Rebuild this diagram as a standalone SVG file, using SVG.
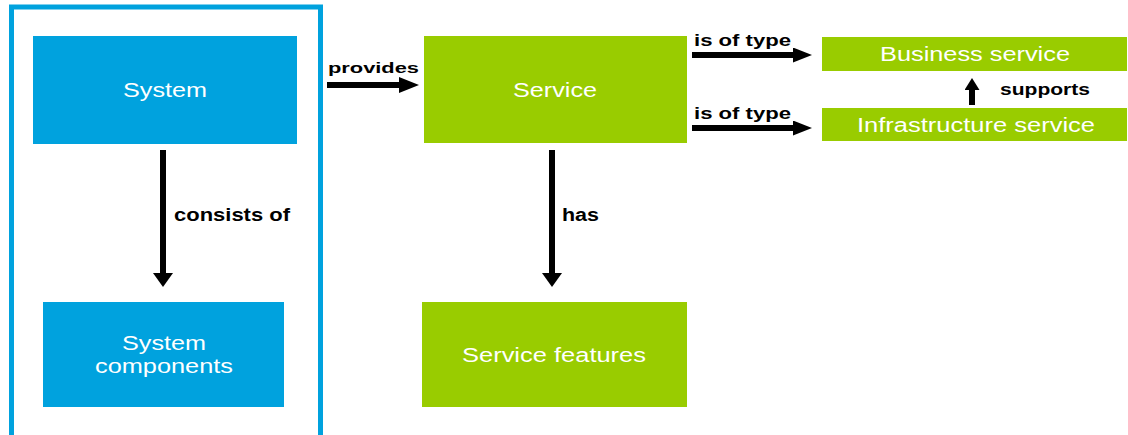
<svg xmlns="http://www.w3.org/2000/svg" width="1128" height="435" viewBox="0 0 1128 435">
  <style>
    .blue { fill: #00a2de; }
    .green { fill: #99cc00; }
    .ntext { font-family: "Liberation Sans", Arial, sans-serif; font-size: 20px; fill: #ffffff; text-anchor: middle; }
    .lbl { font-family: "Liberation Sans", Arial, sans-serif; font-weight: bold; fill: #000000; }
    .conn { stroke: #000000; stroke-width: 6; fill: none; }
  </style>
  <defs>
    <marker id="headH" markerUnits="userSpaceOnUse" markerWidth="20" markerHeight="16" viewBox="0 0 20 16" refX="1" refY="8" orient="auto">
      <path d="M0,0 L20,8 L0,16 Z" fill="#000"/>
    </marker>
    <marker id="headT" markerUnits="userSpaceOnUse" markerWidth="19" markerHeight="15" viewBox="0 0 19 15" refX="1" refY="7.5" orient="auto">
      <path d="M0,0 L19,7.5 L0,15 Z" fill="#000"/>
    </marker>
    <marker id="headV" markerUnits="userSpaceOnUse" markerWidth="14" markerHeight="20" viewBox="0 0 14 20" refX="1" refY="10" orient="auto">
      <path d="M0,0 L14,10 L0,20 Z" fill="#000"/>
    </marker>
    <marker id="headS" markerUnits="userSpaceOnUse" markerWidth="12" markerHeight="15" viewBox="0 0 12 15" refX="1" refY="7.5" orient="auto">
      <path d="M0,0 L12,7.5 L0,15 Z" fill="#000"/>
    </marker>
  </defs>

  <g id="frame">
    <rect x="11.5" y="7" width="309" height="431" fill="none" stroke="#00a2de" stroke-width="5"/>
  </g>

  <g id="system">
    <rect class="blue" x="33" y="36" width="264" height="108"/>
    <text class="ntext" x="165" y="97" textLength="84" lengthAdjust="spacingAndGlyphs">System</text>
  </g>

  <g id="system-components">
    <rect class="blue" x="43" y="302" width="241" height="105"/>
    <text class="ntext" x="164" y="350" textLength="84" lengthAdjust="spacingAndGlyphs">System</text>
    <text class="ntext" x="164" y="373" textLength="138" lengthAdjust="spacingAndGlyphs">components</text>
  </g>

  <g id="service">
    <rect class="green" x="424" y="36" width="263" height="107"/>
    <text class="ntext" x="555" y="97" textLength="84" lengthAdjust="spacingAndGlyphs">Service</text>
  </g>

  <g id="service-features">
    <rect class="green" x="422" y="302" width="265" height="105"/>
    <text class="ntext" x="554" y="362" textLength="184" lengthAdjust="spacingAndGlyphs">Service features</text>
  </g>

  <g id="business-service">
    <rect class="green" x="822" y="37" width="305" height="34"/>
    <text class="ntext" x="975" y="61" textLength="190" lengthAdjust="spacingAndGlyphs">Business service</text>
  </g>

  <g id="infrastructure-service">
    <rect class="green" x="822" y="108" width="305" height="33"/>
    <text class="ntext" x="976" y="132" textLength="238" lengthAdjust="spacingAndGlyphs">Infrastructure service</text>
  </g>

  <g id="connectors">
    <line class="conn" x1="327" y1="85" x2="400" y2="85" marker-end="url(#headH)"/>
    <text class="lbl" x="328" y="73" font-size="15" textLength="91" lengthAdjust="spacingAndGlyphs">provides</text>

    <line class="conn" x1="163" y1="150" x2="163" y2="274" marker-end="url(#headV)"/>
    <text class="lbl" x="174" y="221" font-size="19" textLength="116" lengthAdjust="spacingAndGlyphs">consists of</text>

    <line class="conn" x1="552" y1="150" x2="552" y2="274" marker-end="url(#headV)"/>
    <text class="lbl" x="562" y="221" font-size="18" textLength="37" lengthAdjust="spacingAndGlyphs">has</text>

    <line class="conn" x1="692" y1="55" x2="794" y2="55" marker-end="url(#headT)"/>
    <text class="lbl" x="694" y="46" font-size="16" textLength="97" lengthAdjust="spacingAndGlyphs">is of type</text>

    <line class="conn" x1="692" y1="128" x2="794" y2="128" marker-end="url(#headT)"/>
    <text class="lbl" x="694" y="119" font-size="16" textLength="97" lengthAdjust="spacingAndGlyphs">is of type</text>

    <line class="conn" x1="972" y1="105" x2="972" y2="89" marker-end="url(#headS)"/>
    <text class="lbl" x="1000" y="95" font-size="17" textLength="90" lengthAdjust="spacingAndGlyphs">supports</text>
  </g>
</svg>
